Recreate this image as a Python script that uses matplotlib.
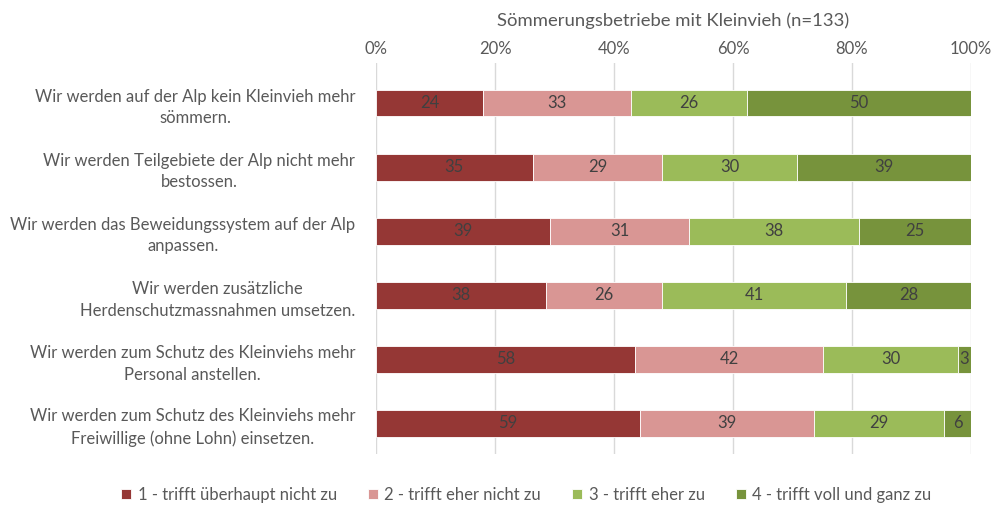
import numpy as np
import matplotlib.pyplot as plt
from matplotlib.ticker import PercentFormatter

plt.rcParams['font.family'] = ['Lato', 'DejaVu Sans']

statements = [
    "Wir werden auf der Alp kein Kleinvieh mehr\nsömmern.",
    "Wir werden Teilgebiete der Alp nicht mehr\nbestossen.",
    "Wir werden das Beweidungssystem auf der Alp\nanpassen.",
    "Wir werden zusätzliche\nHerdenschutzmassnahmen umsetzen.",
    "Wir werden zum Schutz des Kleinviehs mehr\nPersonal anstellen.",
    "Wir werden zum Schutz des Kleinviehs mehr\nFreiwillige (ohne Lohn) einsetzen.",
]
answers = [
    "1 - trifft überhaupt nicht zu",
    "2 - trifft eher nicht zu",
    "3 - trifft eher zu",
    "4 - trifft voll und ganz zu",
]
# counts per answer category, one entry per statement
n_1 = [24, 35, 39, 38, 58, 59]
n_2 = [33, 29, 31, 26, 42, 39]
n_3 = [26, 30, 38, 41, 30, 29]
n_4 = [50, 39, 25, 28, 3, 6]
colors = ['#953735', '#D99694', '#9BBB59', '#77933C']
grey = '#595959'

counts = np.array([n_1, n_2, n_3, n_4], dtype=float)
shares = counts / counts.sum(axis=0)

fig = plt.figure(figsize=(9.93, 5.07), dpi=100)
ax = fig.add_axes([0.3787, 0.1045, 0.5991, 0.7712])

y = np.arange(len(statements))
left = np.zeros(len(statements))
for i in range(4):
    bars = ax.barh(y, shares[i], left=left, height=0.42, color=colors[i],
                   edgecolor='white', linewidth=0.6, label=answers[i], zorder=2)
    ax.bar_label(bars, labels=[str(int(v)) for v in counts[i]], label_type='center',
                 color='#404040', fontsize=12)
    left += shares[i]

ax.set_xlim(0, 1)
ax.set_ylim(5.48, -0.625)
ax.set_xticks(np.linspace(0, 1, 6))
ax.xaxis.set_major_formatter(PercentFormatter(1.0, decimals=0))
ax.xaxis.tick_top()
ax.tick_params(axis='x', length=0, pad=4, labelsize=12, labelcolor=grey)
ax.set_yticks(y)
ax.set_yticklabels(statements)
ax.tick_params(axis='y', length=0, pad=15, labelsize=12, labelcolor=grey)
for lab in ax.get_yticklabels():
    lab.set_multialignment('center')
    lab.set_linespacing(1.45)
ax.grid(axis='x', color='#D9D9D9', linewidth=1, zorder=0)
for s in ax.spines.values():
    s.set_visible(False)

fig.text(0.6783, 0.96, "Sömmerungsbetriebe mit Kleinvieh (n=133)", ha='center', va='center',
         fontsize=13.3, color=grey)

fig.legend(loc='center', bbox_to_anchor=(0.53, 0.024), ncol=4, frameon=False,
           fontsize=12, labelcolor=grey, handlelength=0.6, handleheight=0.6,
           handletextpad=0.4, columnspacing=1.85)

fig.savefig('out.png', dpi=100)
